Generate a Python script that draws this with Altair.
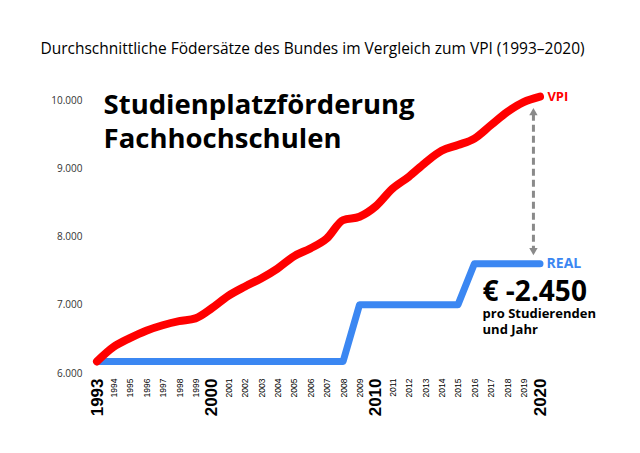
import altair as alt
import pandas as pd

years = [1993, 1994, 1995, 1996, 1997, 1998, 1999, 2000, 2001, 2002, 2003, 2004, 2005, 2006,
         2007, 2008, 2009, 2010, 2011, 2012, 2013, 2014, 2015, 2016, 2017, 2018, 2019, 2020]
vpi = [6170, 6380, 6510, 6620, 6700, 6760, 6800, 6950, 7130, 7265, 7385, 7530, 7710, 7825,
       7970, 8240, 8290, 8445, 8700, 8875, 9080, 9255, 9340, 9435, 9630, 9825, 9970, 10050]
real = [6170, 6170, 6170, 6170, 6170, 6170, 6170, 6170, 6170, 6170, 6170, 6170, 6170, 6170,
        6170, 6170, 7000, 7000, 7000, 7000, 7000, 7000, 7000, 7600, 7600, 7600, 7600, 7600]
y_ticks = [6000, 7000, 8000, 9000, 10000]

title_text = "Durchschnittliche Födersätze des Bundes im Vergleich zum VPI (1993–2020)"
headline = ["Studienplatzförderung", "Fachhochschulen"]
series_labels = ["VPI", "REAL"]
gap_text = "€ -2.450"
gap_sub = ["pro Studierenden", "und Jahr"]

RED = "#ff0000"
BLUE = "#3b87f2"
GREY = "#8a8a8a"

df = pd.DataFrame({"year": years, "vpi": vpi, "real": real})

xs = alt.Scale(domain=[1993, 2020], nice=False, zero=False)
ys = alt.Scale(domain=[6000, 10000], nice=False, zero=False)

big = "datum.value == 1993 || datum.value == 2000 || datum.value == 2010 || datum.value == 2020"

x_axis = alt.Axis(
    values=years, format="d", labelAngle=270, labelPadding=5, ticks=False, domain=False,
    grid=False, title=None, labelFont="Liberation Sans", labelColor="#000000",
    labelFontSize={"condition": {"test": big, "value": 17}, "value": 8.5},
    labelFontWeight={"condition": {"test": big, "value": "bold"}, "value": "normal"},
    labelOverlap=False, labelBound=False, labelFlush=False,
)
y_axis = alt.Axis(
    values=y_ticks, ticks=False, domain=False, grid=False, title=None,
    labelExpr="replace(format(datum.value, ','), ',', '.')", labelPadding=15,
    labelFont="Open Sans", labelFontSize=10, labelColor="#333333", labelOverlap=False,
)


def X(field):
    return alt.X(field, scale=xs, axis=x_axis)


def Y(field):
    return alt.Y(field, scale=ys, axis=y_axis)


base = alt.Chart(df)
real_line = base.mark_line(color=BLUE, strokeWidth=7, strokeCap="round", strokeJoin="round").encode(
    x=X("year:Q"), y=Y("real:Q"))
vpi_line = base.mark_line(color=RED, strokeWidth=8, strokeCap="round", strokeJoin="round",
                          interpolate="monotone").encode(
    x=X("year:Q"), y=Y("vpi:Q"))

# dashed double arrow between VPI and REAL in 2020
arrow_df = pd.DataFrame({"x": [2019.6], "y1": [9800], "y2": [7830]})
arrow = alt.Chart(arrow_df).mark_rule(color=GREY, strokeWidth=3, strokeDash=[7, 4]).encode(
    x=X("x:Q"), y=Y("y1:Q"), y2="y2:Q")
heads_df = pd.DataFrame({"x": [2019.6, 2019.6], "y": [9830, 7780],
                         "shape": ["triangle-up", "triangle-down"]})
heads = alt.Chart(heads_df).mark_point(filled=True, color=GREY, size=70, opacity=1).encode(
    x=X("x:Q"), y=Y("y:Q"),
    shape=alt.Shape("shape:N", scale=None, legend=None))

# headline
head_df = pd.DataFrame({"x": [1993.4, 1993.4], "y": [9795, 9297], "t": headline})
head = alt.Chart(head_df).mark_text(align="left", baseline="alphabetic", font="Open Sans",
                                    fontWeight="bold", fontSize=27.5, color="#000000").encode(
    x=X("x:Q"), y=Y("y:Q"), text="t:N")

lab_df = pd.DataFrame({"x": [2020.45, 2020.4], "y": [10050, 7600], "t": series_labels,
                       "c": [RED, BLUE], "s": [13, 14]})
labs = alt.Chart(lab_df).mark_text(align="left", baseline="middle", font="Open Sans",
                                   fontWeight="bold").encode(
    x=X("x:Q"), y=Y("y:Q"), text="t:N",
    color=alt.Color("c:N", scale=None, legend=None),
    size=alt.Size("s:Q", scale=None, legend=None))

gap_df = pd.DataFrame({"x": [2016.5], "y": [7060], "t": [gap_text]})
gap = alt.Chart(gap_df).mark_text(align="left", baseline="alphabetic", font="Open Sans",
                                  fontWeight="bold", fontSize=28, color="#000000").encode(
    x=X("x:Q"), y=Y("y:Q"), text="t:N")
sub_df = pd.DataFrame({"x": [2016.5, 2016.5], "y": [6810, 6575], "t": gap_sub})
sub = alt.Chart(sub_df).mark_text(align="left", baseline="alphabetic", font="Open Sans",
                                  fontWeight="bold", fontSize=13, color="#000000").encode(
    x=X("x:Q"), y=Y("y:Q"), text="t:N")

chart = alt.layer(real_line, vpi_line, arrow, heads, head, labs, gap, sub).properties(
    width=443, height=273,
    background="white",
    title=alt.TitleParams(text=title_text, font="Open Sans", fontSize=15.5, fontWeight="normal",
                          color="#000000", anchor="middle", offset=33, dx=-6),
    autosize=alt.AutoSizeParams(type="none"),
    padding={"left": 97, "top": 100, "right": 100, "bottom": 80},
).configure_view(strokeWidth=0, stroke="transparent").configure_axis(labelOverlap=False)

chart.save("out.html", embed_options={"renderer": "svg", "actions": False})
